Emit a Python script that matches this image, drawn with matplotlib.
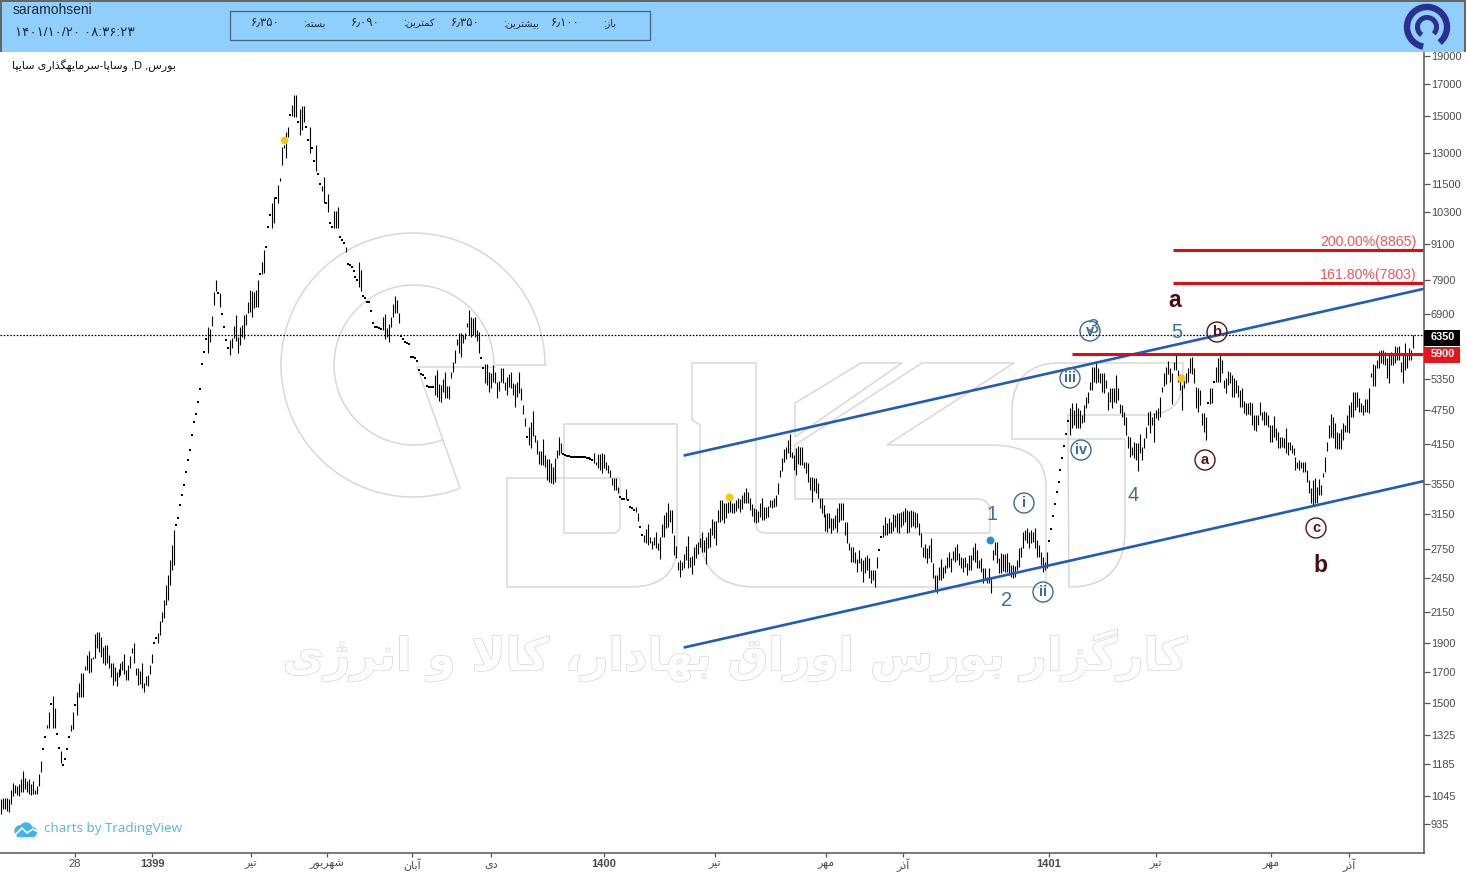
import numpy as np
import matplotlib
matplotlib.use("Agg")
import matplotlib.pyplot as plt
import matplotlib.patheffects as pe
from matplotlib.patches import Arc, Circle, PathPatch, Rectangle
from matplotlib.path import Path

plt.rcParams['font.family'] = ['Liberation Sans', 'DejaVu Sans']

# daily bars, high and low per session; a session with high == low is drawn as a dot
highs_a = [1030,1037,1037,1037,1030,1070,1100,1090,1085,1095,
    1114,1150,1122,1106,1114,1095,1106,1070,1085,1138,
    1195,1255,1315,1380,1448,1496,1544,1472,1330,1260,
    1245,1180,1205,1255,1315,1380,1448,1490,1568,1628,
    1690,1690,1738,1815,1843,1794,1800,1968,1984,1984,
    1944,1871,1885,1885,1815,1759,1759,1731,1696,1717,
    1759,1773,1822,1710,1745,1808,1864,1899,1724,1724,
    1703,1759,1628,1668,1675,1745,1822,1899,1936,1976,2072]
lows_a = [973,993,993,985,981,1013,1045,1057,1049,1045,
    1061,1061,1073,1061,1053,1049,1053,1053,1053,1085,
    1146,1255,1315,1360,1365,1496,1365,1365,1330,1260,
    1190,1180,1205,1255,1315,1345,1355,1490,1436,1538,
    1538,1538,1710,1710,1690,1696,1787,1794,1864,1836,
    1800,1759,1745,1759,1724,1662,1610,1640,1604,1662,
    1675,1710,1682,1647,1647,1724,1829,1759,1675,1610,
    1622,1592,1568,1610,1604,1682,1759,1899,1936,1899,1960]

highs_b = [2144,2250,2385,2480,2630,2795,2960,3020,3105,3265,
    3395,3530,3720,3900,4050,4295,4525,4665,4890,5150,
    5680,5950,6265,6570,6515,6860,7530,7890,7500,
    7500,6910,6570,6240,6050,6240,6290,6595,6885,6315,
    6570,6620,6885,6910,7240,7590,7560,7530,7590,7890,
    8080,8470,8880,8985,9710,10190,10680,10940,10900,
    11450,11770,13290,13390,14100,14380,15060,15700,16310,16310,
    14670,15430,15640,15640,14380,13670,14380,13240,12590,13390,
    11960,11500,11410,11820,10680,11050,9870,9710,10350,10350,
    10510,9340,9230,9120,8985,8400,8370,8305,8180,7985,
    7890,8470,8210,7420,7360,7240,7240,6990,6670,6570,
    6570,6545,6515,6830,6910,6545,6645,6830,7190,7420,
    7300,6940,6340,6265,6190,6165,6145,5840,5840,5815,
    5750,5550,5470,5435,5375,5210,5190,5190,5190]
lows_b = [2064,2096,2205,2250,2385,2530,2580,3020,3105,3265,
    3395,3530,3720,3900,4050,4295,4525,4665,4890,5150,
    5680,5950,6265,5930,6190,6595,7160,7560,7500,
    7105,6910,6570,6240,6050,5885,6050,6290,6215,5930,
    6120,6315,6265,6620,6940,6970,6830,7075,7105,7105,
    8080,8080,8110,8985,9710,10190,9675,9870,10900,
    10680,11630,12390,13240,12740,13820,15060,15000,14950,14950,
    14670,13920,14210,14670,14380,13670,13000,13240,12590,12100,
    11960,11500,11180,10680,10680,10310,9870,9710,9675,9675,
    9675,9340,9230,9120,8810,8400,8370,8305,8180,7985,
    7890,7680,7560,7420,7360,7240,7240,6990,6670,6570,
    6570,6545,6515,6490,6265,6315,6190,6570,6830,6940,
    6940,6670,6340,6265,6190,6165,6145,5840,5840,5815,
    5750,5550,5470,5435,5375,5210,5190,5190,5190]

highs_c = [5440,5550,5250,5230,5350,5510,5210,5210,5510,5730,
    6000,6265,6420,6420,6365,6420,6670,7020,6830,6800,
    6830,6490,6440,5815,5595,5680,5680,5510,5490,5660,
    5510,5290,5310,5595,5595,5290,5395,5470,5510,5270,
    5250,5290,5510,5170,4830,4595,4260,4430,4525,4720,
    4295,4210,4035,4035,4225,3975,3915,3915,3855,3795,
    3930,4050,4260,4160,3990,3975,3960,3960,3945,3945,
    3945,3945,3945,3945,3945,3945,3930,3930,3915,3900,
    4000,3870,3990,3990,4000,3990,3870,3825,3750,3630,
    3630,3630,3500,3365,3345,3345,3475,3330,3240,3225,
    3200,3240,3160,2995,2905,2905,2970,3030,2885,2840,
    2885,2940,2815,2885,3030,3140,3175,3290,3200,3200]
lows_c = [5030,4990,4910,4890,5090,4970,4970,4950,5370,5510,
    5700,6120,5930,5840,6165,6265,6570,6365,6315,6365,
    6315,6215,5930,5815,5595,5270,5230,5090,5170,5290,
    5270,4970,5110,5290,5270,5130,5030,5190,5170,5030,
    4800,4990,5070,4930,4665,4450,4260,4130,4090,4280,
    4175,3990,3840,3825,3825,3795,3600,3570,3560,3545,
    3570,3930,3975,4000,3990,3975,3960,3960,3945,3945,
    3945,3945,3945,3945,3945,3945,3930,3930,3915,3900,
    3855,3825,3780,3750,3705,3780,3750,3705,3645,3530,
    3460,3460,3420,3365,3345,3345,3345,3330,3240,3225,
    3200,3175,3065,2995,2905,2825,2815,2795,2815,2750,
    2795,2760,2740,2640,2885,2885,2985,2995,3055,2925]

highs_d = [2905,2785,2610,2630,2610,2695,2785,2895,2660,2670,
    2770,2800,2830,2870,2940,2850,2885,2940,2985,3090,3065,3065,
    3200,3330,3330,3290,3290,3305,3330,3290,3290,3330,
    3355,3345,3395,3435,3490,3435,3355,3280,3225,3215,
    3190,3290,3355,3240,3240,3255,3330,3330,3355,3395,
    3560,3750,3930,4065,4100,4210,4310,4020,3975,4080,
    4115,4100,4100,3870,3870,3855,3645,3645,3630,3630,
    3560,3355,3355,3265,3150,3160,3160,3105,3105,3140,
    3225,3290,3290,3290,3055,3055,2815,2770,2770,2715,
    2640,2740,2650,2630,2660,2685,2650,2530,2530,2530,
    2660,2740,2885,3020,3115,3040,3105,3055,3150,3140,
    3160,3160,3175,3190,3225,3200,3190,3200,3190,3175,
    3160,3040,2925,2770,2805,2760,2795,2870,2600,2480]
lows_d = [2685,2650,2530,2465,2530,2550,2630,2550,2560,2490,
    2580,2650,2700,2770,2715,2715,2590,2760,2770,2905,2870,2795,
    3055,3055,3080,3040,3105,3160,3175,3160,3160,3190,
    3225,3175,3215,3290,3290,3290,3200,3125,3055,3040,
    3055,3115,3080,3080,3105,3115,3240,3225,3240,3255,
    3410,3645,3735,3870,3915,4000,3945,3930,3750,3675,
    3840,3825,3825,3780,3705,3570,3460,3305,3445,3420,
    3355,3225,3160,3115,2950,2940,2985,2925,2960,2985,
    2940,3055,3080,3080,2905,2815,2740,2610,2610,2600,
    2510,2600,2520,2420,2500,2530,2450,2405,2430,2370,
    2550,2740,2885,2885,2905,2905,2925,2925,2950,2995,
    2940,2925,2995,3020,3055,2925,2940,2995,3010,2985,
    2995,2905,2770,2660,2650,2600,2650,2610,2450,2340]

highs_e = [2480,2560,2640,2560,2580,2660,2715,2650,2730,2770,
    2805,2705,2660,2650,2660,2600,2685,2685,2770,2815,
    2740,2630,2650,2550,2550,2460,2550,2460,2740,2825,
    2825,2650,2705,2695,2695,2705,2610,2580,2580,2570,
    2630,2760,2770,2940,2960,2985,2940,2960,2940,2985,
    2850,2795,2715,2660,2610,2715,2840,2970,3125,3280,
    3435,3570,3750,3930,4115,4310,4540,4775,4880,4740,
    4880,4775,4740,4650,4830,4990,5090,5290,5615,5615,
    5750,5595,5490,5490,5490,5330,5090,5170,5170,5170,
    5435,5170,4850,4830,4705,4615,4280,4260,4100,4175,
    4160,4160,4310,4100,4245,4430,4705,4720,4615,4685,
    4740,4775,4990,5190,5490,5615,5750,5595,5490,5730,
    5930,5550,5460,5230,5330,5490,5595,5815,5840,5595]
lows_e = [2315,2430,2430,2450,2500,2550,2560,2510,2630,2610,
    2630,2580,2550,2510,2560,2480,2530,2530,2630,2610,
    2550,2550,2510,2410,2430,2405,2405,2315,2630,2685,
    2600,2500,2500,2520,2510,2510,2480,2460,2450,2460,
    2530,2560,2660,2760,2850,2815,2760,2815,2825,2760,
    2660,2660,2580,2510,2530,2550,2840,2970,3125,3280,
    3435,3570,3750,3930,4115,4310,4540,4295,4415,4470,
    4415,4415,4415,4505,4525,4775,4870,5130,5130,5290,
    5270,5290,5270,5090,5070,5170,4740,4890,4775,4890,
    4870,4930,4685,4615,4470,4295,4085,3945,3975,3930,
    3900,3735,4000,3900,4085,4245,4470,4330,4470,4175,
    4595,4560,4615,5090,5210,5250,5460,5290,4850,5550,
    5550,5290,5130,4740,5170,5270,5290,5490,5460,5270]

highs_f = [5190,5170,5130,4685,4685,4615,4870,5170,5170,5290,
    5615,5815,5885,5770,5330,5375,5530,5510,5440,5375,
    5330,5230,5130,5170,4910,4870,4870,4890,4870,4650,
    4650,4650,4890,4705,4720,4705,4650,4470,4470,4630,
    4415,4345,4260,4260,4245,4415,4175,4175,4130,4080,
    3945,3870,3900,3870,3870,3870,3750,3600,3490,3600,
    3630,3500,3615,3530,3705,3945,4175,4470,4665,4615,
    4505,4345,4330,4395,4505,4470,4650,4830,4890,5090,
    5090,5090,4970,4870,4830,4950,4950,5170,5490,5680,
    5660,5770,5975,6000,6000,5950,5815,5885,5950,5885,
    6095,6070,6095,5730,5930,6165,5930,6050,6000,6350]
lows_f = [4775,4705,4830,4470,4345,4210,4870,4850,4870,5290,
    5290,5290,5290,5490,5170,5070,5230,5270,4990,4990,
    5070,4990,4800,4800,4685,4650,4665,4650,4470,4380,
    4360,4470,4650,4560,4470,4470,4430,4175,4175,4260,
    4210,4085,4085,4100,4085,4000,3975,4050,4000,3975,
    3750,3780,3750,3780,3720,3720,3570,3420,3290,3265,
    3290,3290,3395,3395,3645,3720,4035,4245,4260,4245,
    4085,4065,4065,4065,4210,4345,4345,4330,4615,4615,
    4740,4800,4705,4705,4650,4705,4705,4685,5395,5210,
    5210,5595,5595,5700,5680,5660,5375,5270,5660,5660,
    5700,5770,5770,5510,5270,5550,5595,5770,5770,6050]

highs = np.array(highs_a + highs_b + highs_c + highs_d + highs_e + highs_f)
lows = np.array(lows_a + lows_b + lows_c + lows_d + lows_e + lows_f)

last_price = 6350
support_level = 5900
fib_levels = [8865, 7803]
fib_labels = ["200.00%(8865)", "161.80%(7803)"]
upper_channel = [3970, 7620]
lower_channel = [1870, 3585]
signal_prices = [13670, 3365, 5375, 2850]

price_ticks = [19000, 17000, 15000, 13000, 11500, 10300, 9100, 7900, 6900, 5350, 4750, 4150,
               3550, 3150, 2750, 2450, 2150, 1900, 1700, 1500, 1325, 1185, 1045, 935]


def shape(text):
    # joins Persian letters into presentation forms and lays them out in visual order
    dual = {'ب': 0xFE8F, 'پ': 0xFB56, 'ت': 0xFE95, 'س': 0xFEB1, 'ش': 0xFEB5, 'ق': 0xFED5, 'ک': 0xFB8E,
            'گ': 0xFB92, 'ل': 0xFEDD, 'م': 0xFEE1, 'ن': 0xFEE5, 'ه': 0xFEE9, 'ی': 0xFBFC}
    right = {'ا': 0xFE8D, 'آ': 0xFE81, 'د': 0xFEA9, 'ذ': 0xFEAB, 'ر': 0xFEAD, 'ز': 0xFEAF, 'ژ': 0xFB8A, 'و': 0xFEED}
    out = []
    i = 0
    while i < len(text):
        ch = text[i]
        joined = i > 0 and text[i - 1] in dual
        nxt = text[i + 1] if i + 1 < len(text) else ''
        if ch == 'ل' and nxt == 'ا':
            out.append(chr(0xFEFC if joined else 0xFEFB))
            i += 2
            continue
        if ch in right:
            out.append(chr(right[ch] + (1 if joined else 0)))
        elif ch in dual:
            next_joins = nxt in dual or nxt in right
            form = {(False, False): 0, (True, False): 1, (False, True): 2, (True, True): 3}[(joined, next_joins)]
            out.append(chr(dual[ch] + form))
        else:
            out.append(ch)
        i += 1
    return ''.join(reversed(out))


def outline(*cmds):
    # small path builder: M/L take one point, Q a control point and an end point, Z closes
    verts, codes = [], []
    for c in cmds:
        if c[0] == 'M':
            verts.append(c[1:3]); codes.append(Path.MOVETO)
        elif c[0] == 'L':
            verts.append(c[1:3]); codes.append(Path.LINETO)
        elif c[0] == 'Q':
            verts += [c[1:3], c[3:5]]; codes += [Path.CURVE3, Path.CURVE3]
        else:
            verts.append((0, 0)); codes.append(Path.CLOSEPOLY)
    return Path(verts, codes)


W, H = 1466, 872
fig = plt.figure(figsize=(W / 100, H / 100), dpi=100, facecolor='white')

# watermark layer behind the price axes, in pixel units
back = fig.add_axes([0, 0, 1, 1], zorder=0)
back.set_xlim(0, W)
back.set_ylim(H, 0)
back.axis('off')
wm = '#d8d8d8'
back.add_patch(Arc((413, 365), 264, 264, theta1=69.5, theta2=360, color=wm, lw=1.1))
back.add_patch(Arc((414, 365), 160, 160, theta1=69, theta2=360, color=wm, lw=1.1))
back.plot([460, 417, 495], [488, 367, 367], color=wm, lw=1.1)
back.plot([496, 546], [365, 365], color=wm, lw=1.1)
shapes = [
    outline(('M', 507, 478), ('L', 564, 478), ('L', 564, 424), ('L', 677, 424), ('L', 677, 545),
            ('Q', 677, 587, 630, 587), ('L', 507, 587), ('Z',)),
    outline(('M', 564, 478), ('L', 620, 478), ('L', 620, 526), ('Q', 620, 533, 612, 533), ('L', 564, 533), ('Z',)),
    outline(('M', 692, 363), ('L', 692, 420), ('L', 700, 425), ('L', 700, 540), ('Q', 705, 587, 755, 587),
            ('L', 1046, 587), ('L', 1046, 483), ('Q', 1044, 445, 990, 445), ('L', 887, 445), ('L', 1014, 363),
            ('L', 922, 363), ('L', 795, 445), ('L', 795, 499), ('L', 977, 499), ('Q', 990, 499, 990, 512),
            ('L', 990, 533), ('L', 765, 533), ('Q', 756, 533, 756, 524), ('L', 756, 363), ('Z',)),
    outline(('M', 795, 403), ('L', 861, 363), ('L', 902, 363), ('L', 795, 437), ('Z',)),
    outline(('M', 1012, 439), ('L', 1012, 408), ('Q', 1014, 363, 1060, 363), ('L', 1183, 363), ('L', 1183, 385),
            ('Q', 1180, 415, 1145, 415), ('L', 1068, 415), ('L', 1068, 439), ('Z',)),
    outline(('M', 1068, 439), ('L', 1125, 439), ('L', 1125, 530), ('Q', 1125, 587, 1069, 587), ('Z',)),
]
for p in shapes:
    back.add_patch(PathPatch(p, facecolor='none', edgecolor=wm, lw=1.1))
back.text(735, 655, shape("کارگزار بورس اوراق بهادار، کالا و انرژی"), fontsize=32.8, fontweight='bold',
          family='DejaVu Sans', color='white', ha='center', va='center',
          path_effects=[pe.Stroke(linewidth=0.9, foreground='#cfcfcf'), pe.Normal()])

# price axes
ax = fig.add_axes([0, (H - 853) / H, 1424 / W, (853 - 52) / H], zorder=1)
ax.patch.set_alpha(0)

step = 1412 / (len(highs) - 1)


def bar_at(px):
    return (np.asarray(px, dtype=float) - 1) / step


x = np.arange(len(highs))
dots = highs == lows
ax.vlines(x[~dots], lows[~dots], highs[~dots], color='black', lw=0.8)
ax.scatter(x[dots], highs[dots], s=0.8, marker='s', color='black', linewidths=0)

ax.axhline(last_price, color='black', lw=0.9, ls=(0, (1.3, 1.3)))
ax.plot(bar_at([685, 1423]), upper_channel, color='#1f5cbb', lw=1.9)
ax.plot(bar_at([685, 1423]), lower_channel, color='#1f5cbb', lw=1.9)
for level, label in zip(fib_levels, fib_labels):
    ax.plot(bar_at([1173, 1423]), [level, level], color='#e2090f', lw=2.2, solid_capstyle='butt')
    ax.text(bar_at(1416), level * 1.004, label, color='#f25555', fontsize=10.2, ha='right', va='bottom')
ax.plot(bar_at([1072, 1423]), [support_level, support_level], color='#e2090f', lw=2.2, solid_capstyle='butt')

ax.scatter(bar_at([284, 729, 1181]), signal_prices[:3], s=32, color='#f3c90f', linewidths=0, zorder=4)
ax.scatter(bar_at([990]), signal_prices[3:], s=32, color='#1e8fe0', linewidths=0, zorder=4)

ax.set_yscale('log')
ax.set_ylim(834.6, 19300)
ax.set_xlim(bar_at(0), bar_at(1424))
ax.yaxis.tick_right()
ax.set_yticks(price_ticks)
ax.set_yticklabels([str(p) for p in price_ticks])
ax.minorticks_off()
ax.tick_params(axis='y', which='major', length=4, width=0.9, color='#555555', labelcolor='#4a4a4a',
               labelsize=7.9, pad=1)

tick_px = [75, 152, 251, 327, 412, 491, 604, 715, 826, 903, 1049, 1156, 1271, 1349]
tick_names = ['28', '1399', 'تیر', 'شهریور', 'آبان', 'دی', '1400', 'تیر', 'مهر', 'آذر', '1401', 'تیر', 'مهر', 'آذر']
ax.set_xticks(bar_at(tick_px))
ax.set_xticklabels([t if t.isdigit() else shape(t) for t in tick_names])
ax.tick_params(axis='x', length=3, width=0.9, color='#555555', labelcolor='#4a4a4a', labelsize=8, pad=1)
for lab, name in zip(ax.get_xticklabels(), tick_names):
    if name in ('1399', '1400', '1401'):
        lab.set_fontweight('bold')

for side in ('left', 'top'):
    ax.spines[side].set_visible(False)
for side in ('right', 'bottom'):
    ax.spines[side].set_color('#555555')
    ax.spines[side].set_linewidth(1.1)

# header, wave labels and price tags, in pixel units
top = fig.add_axes([0, 0, 1, 1], zorder=2)
top.set_xlim(0, W)
top.set_ylim(H, 0)
top.axis('off')

top.add_patch(Rectangle((0, 0), W, 52, facecolor='#90cefb', edgecolor='none'))
top.add_patch(Rectangle((0, 0), W, 2, facecolor='#666666', edgecolor='none'))
top.add_patch(Rectangle((0, 0), 2, 52, facecolor='#666666', edgecolor='none'))
top.add_patch(Rectangle((1464, 0), 2, 52, facecolor='#666666', edgecolor='none'))
top.add_patch(Rectangle((230, 11), 420, 29, facecolor='none', edgecolor='#46657c', lw=0.9))
top.text(13, 9.5, 'saramohseni', fontsize=10, color='#1c2b38', va='center')
top.text(15, 33.5, '۱۴۰۱/۱۰/۲۰ ۰۸:۳۶:۲۳', fontsize=9.6, color='#1c2b38', va='center')

header_items = [(265, '۶٫۳۵۰'), (314, shape('بسته:')), (365, '۶٫۰۹۰'), (419, shape('کمترین:')),
                (465, '۶٫۳۵۰'), (521, shape('بیشترین:')), (565, '۶٫۱۰۰'), (610, shape('باز:'))]
for px, item in header_items:
    is_value = item[0] == '۶'
    top.text(px, 24 if is_value else 23, item, fontsize=8.4 if is_value else 7, color='#1c2b38',
             ha='center', va='center')

logo = '#2b2f8f'
top.add_patch(Arc((1427, 27), 40, 40, theta1=101, theta2=411, color=logo, lw=4.6))
top.add_patch(Arc((1427, 27), 19, 19, theta1=124, theta2=405, color=logo, lw=3.6))

top.text(12, 65.5, shape('وساپا-سرمایهگذاری سایپا') + ' ,D ,' + shape('بورس'), fontsize=8, color='#111111',
         va='center', ha='left')

# cloud icon and credit line
cloud = '#3fb5e8'
top.add_patch(Circle((20, 831), 5, color=cloud))
top.add_patch(Circle((26, 829), 6, color=cloud))
top.add_patch(Circle((32, 832), 4.5, color=cloud))
top.add_patch(Rectangle((17, 831), 17, 5, color=cloud))
top.plot([16, 22, 27, 33, 38], [834, 828, 833, 829, 832], color='white', lw=1.2)
top.text(44, 828.5, 'charts by TradingView', fontsize=9.7, color='#58b4de', family='Open Sans', va='center')

# last price and level tags on the price scale
top.add_patch(Rectangle((1424, 330), 36, 16, facecolor='black', edgecolor='none'))
top.add_patch(Rectangle((1424, 347), 36, 16, facecolor='#e8131b', edgecolor='none'))
top.text(1443, 337, str(last_price), color='white', fontsize=7.9, fontweight='bold', ha='center', va='center')
top.text(1443, 354, str(support_level), color='white', fontsize=7.9, fontweight='bold', ha='center', va='center')

# wave counts
wave_blue = '#3a6c99'
wave_red = '#5a1218'
for text, cx, cy in [('i', 1024, 503), ('ii', 1043, 592), ('iii', 1070, 378), ('iv', 1081, 450), ('v', 1090, 331)]:
    top.add_patch(Circle((cx, cy), 10, facecolor='none', edgecolor=wave_blue, lw=1.0))
    top.text(cx, cy, text, color=wave_blue, fontsize=10.5, fontweight='bold', ha='center', va='center')
for text, cx, cy in [('a', 1205, 460), ('b', 1217, 332), ('c', 1316, 528)]:
    top.add_patch(Circle((cx, cy), 10, facecolor='none', edgecolor=wave_red, lw=1.0))
    top.text(cx, cy, text, color=wave_red, fontsize=10.5, fontweight='bold', ha='center', va='center')
for text, cx, cy in [('1', 992, 514), ('2', 1007, 600), ('3', 1093, 327), ('4', 1133, 495), ('5', 1177, 332)]:
    top.text(cx, cy, text, color='#3f6f9c', fontsize=14.5, ha='center', va='center')
for text, cx, cy in [('a', 1175, 300), ('b', 1320, 565)]:
    top.text(cx, cy, text, color='#4a0c12', fontsize=16.5, fontweight='bold', ha='center', va='center')

fig.savefig('out.png', dpi=100)
